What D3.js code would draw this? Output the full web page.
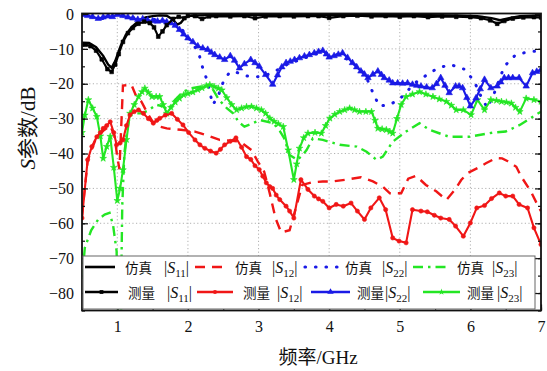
<!DOCTYPE html>
<html>
<head>
<meta charset="utf-8">
<script src="https://cdn.jsdelivr.net/npm/d3@7/dist/d3.min.js"></script>
<style>
  html, body { margin: 0; padding: 0; background: #fff; }
  svg { display: block; }
  text { font-family: "Liberation Serif", "Times New Roman", "Noto Sans CJK SC", serif; fill: #111; }
</style>
</head>
<body>
<svg id="chart" width="547" height="371"></svg>
<script>
// ---- data: [frequency GHz, level dB] ----
const simS11 = [[0.5,-8.2],[0.6,-8.3],[0.7,-9.5],[0.8,-12],[0.87,-14.5],[0.92,-15.4],[0.97,-13.5],[1.05,-9],[1.12,-6],[1.2,-3.8],[1.3,-2],[1.4,-1],[1.5,-0.6],[1.6,-0.4],[1.7,-0.5],[1.78,-1.5],[1.85,-3],[1.9,-2.5],[1.96,-1],[2.05,-0.4],[2.5,-0.3],[3,-0.3],[4,-0.3],[5,-0.3],[5.8,-0.4],[6.1,-0.6],[6.3,-1.2],[6.42,-1.8],[6.55,-1.2],[6.7,-0.6],[7,-0.4]];
const measS11 = [[0.5,-8.8],[0.55,-8.8],[0.62,-9.2],[0.7,-10.5],[0.78,-13],[0.86,-15.8],[0.92,-16.6],[0.97,-14.5],[1.02,-11.5],[1.08,-8],[1.15,-5.5],[1.22,-4],[1.3,-2.8],[1.38,-2.2],[1.46,-2.6],[1.52,-3.8],[1.58,-6.5],[1.64,-5],[1.7,-3.2],[1.79,-1.4],[1.87,-0.8],[1.95,-1.2],[2.0,-0.5],[2.1,-0.6],[2.2,-1.4],[2.3,-0.7],[2.4,-0.6],[2.6,-0.7],[2.8,-0.6],[2.95,-1.2],[3.1,-0.7],[3.3,-0.6],[3.5,-0.7],[3.7,-0.6],[3.85,-0.6],[4.0,-1.1],[4.2,-0.6],[4.4,-0.5],[4.6,-0.7],[4.8,-0.6],[5.0,-0.8],[5.2,-0.6],[5.4,-0.9],[5.6,-0.7],[5.8,-0.8],[6.0,-0.9],[6.15,-1.2],[6.28,-1.8],[6.38,-2.8],[6.48,-2.0],[6.6,-1.3],[6.75,-1.0],[6.9,-0.9],[7.0,-1.0]];
const simS12 = [[0.5,-58],[0.58,-42],[0.7,-35.5],[0.8,-33.5],[0.9,-32],[0.96,-35],[1.0,-41],[1.03,-44.5],[1.05,-35],[1.08,-20.5],[1.2,-20.3],[1.27,-23.7],[1.34,-25.1],[1.44,-28.9],[1.52,-31.5],[1.6,-32.3],[1.7,-32.8],[1.9,-33.2],[2.1,-33.7],[2.26,-34.7],[2.45,-36.1],[2.59,-36.3],[2.7,-36.5],[2.78,-37.2],[2.9,-39],[2.99,-42.3],[3.08,-45.2],[3.16,-51.5],[3.24,-58.5],[3.32,-62.6],[3.44,-62],[3.62,-49],[3.75,-48.3],[3.91,-48],[4.05,-48],[4.27,-47.4],[4.45,-46.8],[4.62,-48],[4.76,-49.5],[4.86,-51.4],[5.02,-51.4],[5.12,-47.2],[5.23,-46.4],[5.37,-49],[5.52,-50.9],[5.66,-53.3],[5.78,-50.4],[5.87,-47.6],[5.96,-45.6],[6.1,-44.2],[6.22,-42.8],[6.36,-41.3],[6.45,-41.4],[6.53,-42.2],[6.65,-43.8],[6.72,-46.6],[6.86,-51],[6.95,-54.7],[7.0,-56.5]];
const measS12 = [[0.5,-58.5],[0.58,-41.8],[0.64,-38],[0.71,-35.2],[0.76,-34],[0.8,-32.8],[0.85,-32],[0.9,-30.9],[0.95,-34],[0.99,-37.5],[1.04,-37],[1.08,-36.1],[1.13,-32],[1.18,-28.9],[1.24,-28],[1.3,-27.5],[1.37,-28.5],[1.44,-30],[1.51,-31.3],[1.56,-30.5],[1.6,-29.9],[1.68,-29],[1.77,-28.5],[1.85,-30.2],[1.93,-31.8],[2.01,-34],[2.1,-36.1],[2.17,-37.5],[2.24,-38.5],[2.32,-39.3],[2.4,-39.9],[2.46,-38.8],[2.52,-37.5],[2.6,-36.5],[2.68,-35.5],[2.76,-38.2],[2.83,-40.9],[2.89,-41.7],[2.95,-43.5],[3.01,-44.6],[3.06,-46.5],[3.11,-48.4],[3.16,-49.5],[3.2,-50],[3.25,-51.9],[3.3,-53.2],[3.39,-55.1],[3.44,-56.5],[3.5,-58.5],[3.6,-47.5],[3.7,-50.3],[3.79,-52.2],[3.85,-53],[3.91,-53.7],[4.0,-55.6],[4.1,-54.6],[4.2,-55.1],[4.31,-54.2],[4.4,-56.5],[4.5,-58.9],[4.59,-55.6],[4.71,-52.7],[4.8,-56.1],[4.9,-64.2],[4.99,-65.1],[5.09,-65.6],[5.18,-56.1],[5.3,-56.5],[5.39,-56.7],[5.49,-57.7],[5.58,-58.5],[5.7,-58.9],[5.79,-60.8],[5.9,-63.7],[6.0,-59.9],[6.09,-55.6],[6.2,-54.9],[6.3,-52.9],[6.41,-51.3],[6.5,-52.2],[6.6,-52.2],[6.69,-54.6],[6.81,-55.6],[6.9,-61.3],[7.0,-66.1]];
const simS22 = [[0.5,-0.3],[0.6,-0.6],[0.75,-1.5],[0.9,-0.8],[1.0,-0.3],[1.2,-1],[1.5,-1.5],[1.75,-2.3],[1.9,-4],[2.05,-8],[2.15,-11],[2.21,-15.5],[2.28,-19.5],[2.35,-26],[2.42,-24],[2.5,-19.5],[2.58,-17],[2.66,-16.4],[2.77,-17.5],[2.87,-17.9],[2.97,-18],[3.08,-17.8],[3.17,-17],[3.27,-16],[3.4,-14.5],[3.6,-13],[3.8,-11.5],[3.95,-11.2],[4.15,-11.8],[4.3,-13.5],[4.45,-16],[4.53,-18.3],[4.62,-22.6],[4.71,-26.4],[4.85,-26],[4.95,-25],[5.04,-23.6],[5.2,-20],[5.35,-17.9],[5.54,-15.5],[5.72,-14.5],[5.91,-15.8],[6.05,-19.1],[6.15,-23.6],[6.24,-26.9],[6.34,-22.6],[6.48,-15],[6.64,-11.7],[6.85,-10.7],[7.0,-10.7]];
const measS22 = [[0.5,-0.2],[0.58,-0.5],[0.65,-0.8],[0.73,-1.3],[0.8,-0.9],[0.87,-0.6],[0.93,-0.8],[1.0,-0.2],[1.08,-0.5],[1.15,-0.9],[1.22,-1.2],[1.29,-1.6],[1.36,-1.4],[1.43,-1.8],[1.5,-2.0],[1.57,-2.1],[1.64,-1.9],[1.7,-2.3],[1.76,-2.6],[1.82,-3.3],[1.88,-4.5],[1.94,-5.8],[2.0,-6.9],[2.07,-8],[2.14,-9.2],[2.21,-9.8],[2.28,-10.2],[2.33,-11],[2.38,-11.7],[2.45,-12.4],[2.52,-13.1],[2.6,-12],[2.66,-13.3],[2.73,-15.5],[2.8,-14.3],[2.89,-13.1],[2.95,-14],[3.01,-15],[3.1,-17.4],[3.2,-20.2],[3.27,-17.5],[3.33,-15.2],[3.39,-14],[3.45,-13.6],[3.51,-13.1],[3.58,-12.6],[3.65,-12.1],[3.72,-11.7],[3.79,-11.2],[3.85,-10.8],[3.91,-10.5],[3.96,-11.5],[4.0,-12.4],[4.07,-12],[4.13,-11.6],[4.19,-11.2],[4.26,-12.5],[4.33,-14],[4.39,-15.2],[4.45,-16.4],[4.5,-17.3],[4.55,-18.3],[4.62,-17.3],[4.69,-16.4],[4.74,-17.4],[4.78,-18.3],[4.85,-19],[4.9,-19.8],[4.97,-19.8],[5.04,-19.9],[5.11,-19.8],[5.18,-20.2],[5.24,-20.5],[5.3,-20.7],[5.38,-21],[5.46,-21.2],[5.52,-20],[5.58,-18.3],[5.64,-20.5],[5.7,-22.6],[5.79,-20.7],[5.84,-20.7],[5.89,-21.2],[5.95,-24],[6.0,-26.4],[6.08,-24.1],[6.14,-21.5],[6.2,-18.8],[6.29,-21.2],[6.38,-20.7],[6.43,-19.5],[6.48,-18.3],[6.54,-18.3],[6.6,-18.3],[6.69,-18.3],[6.79,-20.7],[6.88,-16.9],[6.94,-16.5],[7.0,-16]];
const simS23 = [[0.5,-76],[0.54,-67],[0.63,-62],[0.73,-58.9],[0.82,-57.5],[0.89,-57],[0.94,-60.5],[0.99,-68],[1.02,-95],[1.05,-95],[1.06,-70],[1.07,-55],[1.1,-40],[1.14,-33],[1.18,-29],[1.25,-28.5],[1.35,-28.5],[1.45,-27.5],[1.55,-26],[1.65,-26.5],[1.72,-27.5],[1.8,-25],[1.93,-22.3],[2.05,-21.3],[2.26,-20.5],[2.35,-21.5],[2.44,-24.6],[2.55,-27],[2.64,-28.5],[2.72,-31],[2.8,-32.3],[2.9,-31.5],[3.02,-30.4],[3.21,-31.3],[3.3,-33.5],[3.36,-35.5],[3.44,-40.4],[3.55,-41.8],[3.62,-40.5],[3.68,-39],[3.77,-35.6],[3.91,-36.1],[4.15,-37.5],[4.39,-38],[4.53,-39.5],[4.67,-41.8],[4.76,-40.9],[4.9,-36.6],[5.09,-33.7],[5.28,-31.3],[5.42,-33.2],[5.7,-35.2],[5.98,-35.2],[6.32,-34],[6.5,-33.7],[6.7,-31.8],[6.85,-29.9],[7.0,-28]];
const measS23 = [[0.5,-34],[0.54,-29],[0.59,-24.6],[0.65,-27],[0.71,-29.4],[0.76,-35],[0.8,-41.4],[0.85,-38],[0.9,-35.1],[0.95,-44],[1.0,-53.5],[1.04,-50],[1.08,-44.7],[1.13,-36],[1.18,-28.5],[1.24,-26],[1.3,-23.7],[1.35,-22.3],[1.39,-21.3],[1.44,-22.5],[1.49,-23.7],[1.55,-23.7],[1.6,-23.7],[1.65,-26],[1.7,-28.5],[1.76,-26.8],[1.82,-25.3],[1.88,-24.2],[1.94,-23.2],[2.0,-22.8],[2.07,-22.4],[2.14,-21.7],[2.2,-21.2],[2.26,-20.6],[2.31,-20.3],[2.37,-20.8],[2.43,-21.3],[2.48,-21.8],[2.55,-24],[2.62,-26],[2.69,-27.5],[2.76,-27],[2.83,-26.6],[2.9,-26.5],[2.97,-27],[3.04,-27.5],[3.1,-28.5],[3.16,-29.9],[3.22,-30.8],[3.28,-31.5],[3.35,-32.3],[3.42,-39],[3.5,-47.5],[3.54,-43],[3.58,-38.5],[3.64,-35.5],[3.7,-34.2],[3.8,-34],[3.89,-34.2],[3.95,-32],[4.01,-29.9],[4.08,-28.8],[4.15,-28],[4.22,-27.5],[4.29,-27],[4.36,-27.5],[4.43,-28],[4.52,-28],[4.6,-28],[4.65,-30.5],[4.69,-32.8],[4.75,-33],[4.81,-33.2],[4.86,-33.7],[4.9,-34.2],[4.96,-30],[5.02,-26],[5.09,-23.7],[5.18,-23],[5.28,-22.3],[5.37,-23],[5.47,-23.7],[5.56,-24.4],[5.66,-25.1],[5.73,-26.2],[5.8,-27.5],[5.9,-27.5],[6.01,-28.9],[6.1,-24.6],[6.2,-27.5],[6.29,-24.6],[6.37,-24.8],[6.44,-25.1],[6.51,-25.3],[6.58,-25.6],[6.64,-26.8],[6.7,-28],[6.79,-24.2],[6.9,-24.6],[7.0,-25.1]];

const xTicks = [1, 2, 3, 4, 5, 6, 7];
const xTickLabels = ["1", "2", "3", "4", "5", "6", "7"];
const yTicks = [-80, -70, -60, -50, -40, -30, -20, -10, 0];
const yTickLabels = ["\u221280", "\u221270", "\u221260", "\u221250", "\u221240", "\u221230", "\u221220", "\u221210", "0"];
const seriesKinds = ["仿真", "测量"];
const seriesNames = ["11", "12", "22", "23"];

// ---- layout ----
const svg = d3.select("#chart");
const padL = 82, padR = 541, padT = 14, padB = 310.5;
const x = d3.scaleLinear().domain([0.5, 7]).range([padL, padR]);
const y = d3.scaleLinear().domain([-85, 0]).range([padB, padT]);

svg.append("defs").append("clipPath").attr("id", "plotClip")
  .append("rect").attr("x", padL).attr("y", padT - 1).attr("width", padR - padL).attr("height", padB - padT + 1);

// grid
const grid = svg.append("g").attr("stroke", "#a8a8a8").attr("stroke-width", 0.9).attr("stroke-dasharray", "1.2,2.4");
grid.selectAll("line.gx").data(xTicks.slice(0, -1)).join("line")
  .attr("x1", d => x(d)).attr("x2", d => x(d)).attr("y1", padT).attr("y2", padB);
grid.selectAll("line.gy").data(yTicks.slice(0, -1)).join("line")
  .attr("y1", d => y(d)).attr("y2", d => y(d)).attr("x1", padL).attr("x2", padR);

// series styling
const colors = { "11": "#000000", "12": "#f01616", "22": "#1a1ae6", "23": "#24e624" };
const simDash = { "11": null, "12": "10,7", "22": "0.5,10", "23": "10,5,2.5,5" };
const simWidth = { "11": 2.4, "12": 2.4, "22": 3, "23": 2.4 };
const line = d3.line().x(d => x(d[0])).y(d => y(d[1]));
const symbols = {
  "11": d3.symbol().type(d3.symbolSquare).size(14),
  "12": d3.symbol().type(d3.symbolCircle).size(14),
  "22": d3.symbol().type(d3.symbolTriangle).size(18),
  "23": d3.symbol().type(d3.symbolStar).size(14)
};

const plot = svg.append("g").attr("clip-path", "url(#plotClip)");
const simData = { "11": simS11, "12": simS12, "22": simS22, "23": simS23 };
const measData = { "11": measS11, "12": measS12, "22": measS22, "23": measS23 };

function drawSim(k, g) {
  g.append("path").datum(simData[k]).attr("d", line)
    .attr("fill", "none").attr("stroke", colors[k]).attr("stroke-width", simWidth[k])
    .attr("stroke-linecap", k === "22" ? "round" : "butt")
    .attr("stroke-dasharray", simDash[k]);
}
function drawMeas(k, g) {
  g.append("path").datum(measData[k]).attr("d", line)
    .attr("fill", "none").attr("stroke", colors[k]).attr("stroke-width", 2.1)
    .attr("stroke-linejoin", "round");
  g.selectAll(null).data(measData[k]).join("path")
    .attr("d", symbols[k]())
    .attr("transform", d => `translate(${x(d[0])},${y(d[1])})`)
    .attr("fill", colors[k]).attr("stroke", colors[k]).attr("stroke-width", 0.6);
}
["23", "12", "22", "11"].forEach(k => drawSim(k, plot));
["23", "12", "22", "11"].forEach(k => drawMeas(k, plot));

// axes with inward ticks
function tickAxis(gen, scale, vals, size, fmt) {
  return gen(scale).tickValues(vals).tickSizeInner(-size).tickSizeOuter(0).tickPadding(8).tickFormat(fmt);
}
const axes = svg.append("g");
const minorX = d3.range(0.5, 7.01, 0.5);
const minorY = d3.range(-85, 0.01, 5);

const xAxisG = axes.append("g").attr("transform", `translate(0,${padB})`)
  .call(tickAxis(d3.axisBottom, x, xTicks, 6, (d, i) => xTickLabels[i]));
axes.append("g").attr("transform", `translate(0,${padB})`)
  .call(tickAxis(d3.axisBottom, x, minorX, 3, () => ""));
const yAxisG = axes.append("g").attr("transform", `translate(${padL},0)`)
  .call(tickAxis(d3.axisLeft, y, yTicks, 6, (d, i) => yTickLabels[i]));
axes.append("g").attr("transform", `translate(${padL},0)`)
  .call(tickAxis(d3.axisLeft, y, minorY, 3, () => ""));
axes.append("g").attr("transform", `translate(${padR},0)`)
  .call(tickAxis(d3.axisRight, y, yTicks, 6, () => ""));
axes.append("g").attr("transform", `translate(${padR},0)`)
  .call(tickAxis(d3.axisRight, y, minorY, 3, () => ""));
axes.selectAll(".domain").remove();
axes.selectAll(".tick line").attr("stroke", "#111").attr("stroke-width", 1.2);
xAxisG.selectAll("text").attr("font-size", 16).attr("font-family", "Liberation Serif").attr("dy", "0.85em");
yAxisG.selectAll("text").attr("font-size", 16).attr("font-family", "Liberation Serif");

// frame
svg.append("rect").attr("x", padL).attr("y", padT - 0.5).attr("width", padR - padL).attr("height", padB - padT + 0.5)
  .attr("fill", "none").attr("stroke", "#111").attr("stroke-width", 1.8);

// axis titles
svg.append("text").attr("x", 318).attr("y", 364).attr("text-anchor", "middle").attr("font-size", 19)
  .text("频率/GHz");
const yt = svg.append("text").attr("transform", "translate(35,128) rotate(-90)").attr("text-anchor", "middle").attr("font-size", 21);
yt.append("tspan").attr("font-style", "italic").attr("font-family", "Liberation Serif").text("S");
yt.append("tspan").text("参数/dB");

// legend
const leg = svg.append("g");
leg.append("rect").attr("x", 83).attr("y", 256).attr("width", 452).attr("height", 53)
  .attr("fill", "#fff").attr("stroke", "#666").attr("stroke-width", 1);
const legendRows = [
  { kind: 0, ly: 267, ty: 273, lx: [85, 195, 305, 413], len: [30, 32, 32, 36], cx: [125, 235, 345, 457], sx: [164, 272, 382, 492] },
  { kind: 1, ly: 292, ty: 298, lx: [85, 197, 311, 423], len: [33, 36, 39, 37], cx: [128, 243, 357, 467], sx: [167, 277, 385, 497] }
];
legendRows.forEach(row => {
  seriesNames.forEach((k, i) => {
    const x0 = row.lx[i], x1 = row.lx[i] + row.len[i];
    leg.append("line").attr("x1", x0).attr("x2", x1).attr("y1", row.ly).attr("y2", row.ly)
      .attr("stroke", colors[k]).attr("stroke-width", row.kind ? 2.3 : simWidth[k] + 0.2)
      .attr("stroke-linecap", k === "22" && !row.kind ? "round" : "butt")
      .attr("stroke-dasharray", row.kind ? null : simDash[k]);
    if (row.kind) {
      leg.append("path").attr("d", symbols[k]())
        .attr("transform", `translate(${(x0 + x1) / 2},${row.ly})`).attr("fill", colors[k]);
    }
    leg.append("text").attr("x", row.cx[i]).attr("y", row.ty).attr("font-size", 13.5)
      .attr("font-family", "'Noto Sans CJK SC', sans-serif").attr("fill", "#333")
      .text(seriesKinds[row.kind]);
    const t = leg.append("text").attr("x", row.sx[i]).attr("y", row.ty).attr("font-size", 16);
    t.append("tspan").text("|");
    t.append("tspan").attr("font-style", "italic").text("S");
    t.append("tspan").attr("font-size", 11).attr("dy", 4).text(k);
    t.append("tspan").attr("dy", -4).text("|");
  });
});
</script>
</body>
</html>
